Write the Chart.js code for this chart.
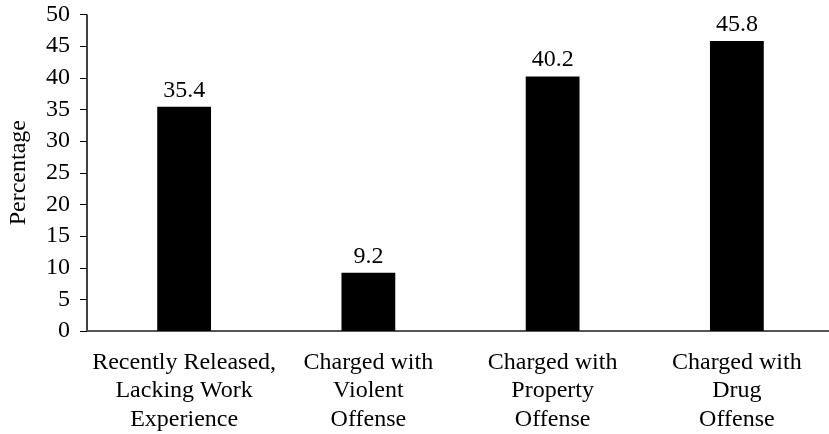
<!DOCTYPE html>
<html>
<head>
<meta charset="utf-8">
<script src="https://cdn.jsdelivr.net/npm/chart.js@4"></script>
<style>
  html, body { margin: 0; padding: 0; background: #fff; }
  #wrap { width: 829px; height: 434px; }
</style>
</head>
<body>
<div id="wrap"><canvas id="grafic"></canvas></div>
<script>
// Categories, one array entry per line of the label
const categories = [
  ['Recently Released,', 'Lacking Work', 'Experience'],
  ['Charged with', 'Violent', 'Offense'],
  ['Charged with', 'Property', 'Offense'],
  ['Charged with', 'Drug', 'Offense']
];
const percentages = [35.4, 9.2, 40.2, 45.8];
const valueLabels = ['35.4', '9.2', '40.2', '45.8'];

const FONT = '"Liberation Serif", "DejaVu Serif", serif';
const AXIS_X = 87;   // where the vertical axis line sits

// Axis lines and outward tick marks, drawn a little left of the bar area
const eixos = {
  id: 'eixos',
  beforeDatasetsDraw(chart) {
    const { ctx, scales: { y } } = chart;
    const y0 = y.getPixelForValue(0);
    const yTop = y.getPixelForValue(50);
    ctx.save();
    ctx.strokeStyle = '#000';
    ctx.lineWidth = 1.5;
    ctx.beginPath();
    ctx.moveTo(AXIS_X, yTop);
    ctx.lineTo(AXIS_X, y0);
    ctx.stroke();
    ctx.lineWidth = 1;
    y.ticks.forEach(t => {
      const py = Math.round(y.getPixelForValue(t.value)) + 0.5;
      ctx.beginPath();
      ctx.moveTo(AXIS_X - 7, py);
      ctx.lineTo(AXIS_X, py);
      ctx.stroke();
    });
    ctx.strokeStyle = '#555';
    ctx.lineWidth = 2;
    ctx.beginPath();
    ctx.moveTo(AXIS_X, y0);
    ctx.lineTo(chart.width, y0);
    ctx.stroke();
    ctx.restore();
  }
};

// Value written above each bar
const etiquetesValor = {
  id: 'etiquetesValor',
  afterDatasetsDraw(chart) {
    const { ctx } = chart;
    const meta = chart.getDatasetMeta(0);
    ctx.save();
    ctx.fillStyle = '#000';
    ctx.font = '24px ' + FONT;
    ctx.textAlign = 'center';
    ctx.textBaseline = 'alphabetic';
    meta.data.forEach((bar, i) => {
      ctx.fillText(valueLabels[i], bar.x, bar.y - 10);
    });
    ctx.restore();
  }
};

new Chart(document.getElementById('grafic').getContext('2d'), {
  type: 'bar',
  data: {
    labels: categories,
    datasets: [{
      data: percentages,
      backgroundColor: '#000',
      borderWidth: 0,
      categoryPercentage: 1,
      barPercentage: 0.292
    }]
  },
  options: {
    animation: false,
    responsive: true,
    maintainAspectRatio: false,
    layout: { padding: { top: 0, right: -10, left: 0, bottom: 0 } },
    plugins: {
      legend: { display: false },
      tooltip: { enabled: false }
    },
    scales: {
      x: {
        grid: { display: false, drawTicks: false },
        border: { display: false },
        ticks: {
          color: '#000',
          padding: 17,
          maxRotation: 0,
          autoSkip: false,
          font: { size: 24, family: FONT, lineHeight: 1.2 }
        },
        afterFit(scale) { scale.height = 103; }
      },
      y: {
        min: 0,
        max: 50,
        ticks: {
          stepSize: 5,
          autoSkip: false,
          color: '#000',
          padding: 0,
          font: { size: 24, family: FONT }
        },
        // hidden tick length keeps the labels clear of the axis line
        grid: { display: false, drawTicks: true, tickLength: 22 },
        border: { display: false },
        title: {
          display: true,
          text: 'Percentage',
          color: '#000',
          padding: { top: 4, bottom: 0 },
          font: { size: 24, family: FONT }
        },
        afterFit(scale) { scale.width = 92; }
      }
    }
  },
  plugins: [eixos, etiquetesValor]
});
</script>
</body>
</html>
